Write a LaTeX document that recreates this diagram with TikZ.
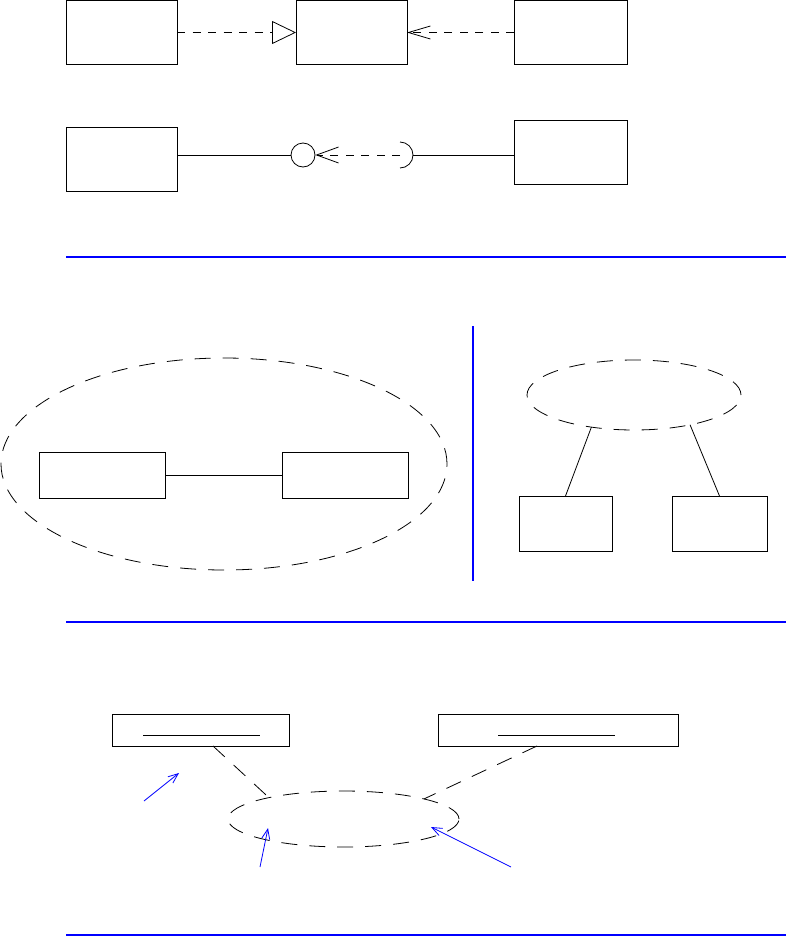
\documentclass[tikz,border=0pt]{standalone}
\usetikzlibrary{arrows.meta,shapes.geometric,calc}
\definecolor{sepblue}{RGB}{0,0,255}
\begin{document}
\begin{tikzpicture}[x=1bp,y=-1bp,
  box/.style={draw,line width=0.9bp,rectangle,inner sep=0pt,outer sep=0pt},
  lnk/.style={line width=0.8bp},
  shortdash/.style={lnk,dash pattern=on 8bp off 7.5bp},
  longdash/.style={line width=0.8bp,dash pattern=on 16bp off 12bp},
  grp/.style={draw,ellipse,longdash,inner sep=0pt,outer sep=0pt},
  sep/.style={draw=sepblue,line width=1.3bp},
  note/.style={sepblue,line width=0.8bp,-{Straight Barb[length=10bp,width=8bp]}}]
\useasboundingbox (0,0) rectangle (786,936);

% ---- top row
\node[box,minimum width=111bp,minimum height=64bp] (A) at (121.5,32.5) {};
\node[box,minimum width=111bp,minimum height=64bp] (B) at (351.5,32.5) {};
\node[box,minimum width=113bp,minimum height=64bp] (C) at (570.5,32.5) {};
\draw[shortdash,-{Triangle[open,length=24bp,width=23bp,line width=0.8bp]}] (A) -- (B);
\draw[shortdash,-{Straight Barb[length=22bp,width=13bp,line width=0.8bp]}] (C) -- (B);

% ---- second row
\node[box,minimum width=111bp,minimum height=64bp] (D) at (121.5,159) {};
\node[box,minimum width=113bp,minimum height=64bp] (E) at (570.5,152) {};
\node[draw,circle,line width=0.8bp,minimum size=24bp,inner sep=0pt] (O) at (303,155) {};
\coordinate (S) at (400,155);
\coordinate (SR) at (413,155);
\draw[lnk] (D.east |- O) -- (O);
\draw[shortdash,-{Straight Barb[length=22bp,width=16bp,line width=0.8bp]}] (S) -- (O);
\draw[lnk] (400,142) arc[start angle=90,end angle=-90,radius=13bp];
\draw[lnk] (SR) -- (E.west |- SR);

\draw[sep] (66,257) -- (786,257);

% ---- middle section
\node[grp,minimum width=446bp,minimum height=212bp] (G1) at (224,464) {};
\node[box,minimum width=126bp,minimum height=46bp] (F) at (102,475) {};
\node[box,minimum width=126bp,minimum height=46bp] (G) at (345.5,475) {};
\draw[lnk] (F) -- (G);
\draw[sep] (473,326) -- (473,581);
\node[grp,minimum width=214bp,minimum height=70bp] (G2) at (634,395) {};
\node[box,minimum width=93bp,minimum height=55bp] (H) at (565.5,523.5) {};
\node[box,minimum width=95bp,minimum height=55bp] (I) at (719.5,523.5) {};
\draw[lnk] (H.north) -- (G2.-143);
\draw[lnk] (I.north) -- (G2.-28.6);

\draw[sep] (66,622) -- (786,622);

% ---- bottom section
\node[box,minimum width=177bp,minimum height=32bp] (J) at (200.5,730) {};
\node[box,minimum width=240bp,minimum height=32bp] (K) at (558,730) {};
\draw[lnk] (143,735) -- (260,735);
\draw[lnk] (498,735) -- (615,735);
\node[grp,minimum width=231bp,minimum height=56bp] (L) at (343.5,819) {};
\draw[longdash] ([xshift=12.5bp]J.south) -- (L.164);
\draw[longdash] ([xshift=-21bp]K.south) -- (L.14.6);

\coordinate (n1s) at (144,801);
\coordinate (n1e) at (179,773);
\coordinate (n2s) at (260,867);
\coordinate (n2e) at (268,828);
\coordinate (n3s) at (511,867);
\coordinate (n3e) at (431,827);
\draw[note] (n1s) -- (n1e);
\draw[note] (n2s) -- (n2e);
\draw[note] (n3s) -- (n3e);

\draw[sep] (66,935) -- (786,935);
\end{tikzpicture}
\end{document}
